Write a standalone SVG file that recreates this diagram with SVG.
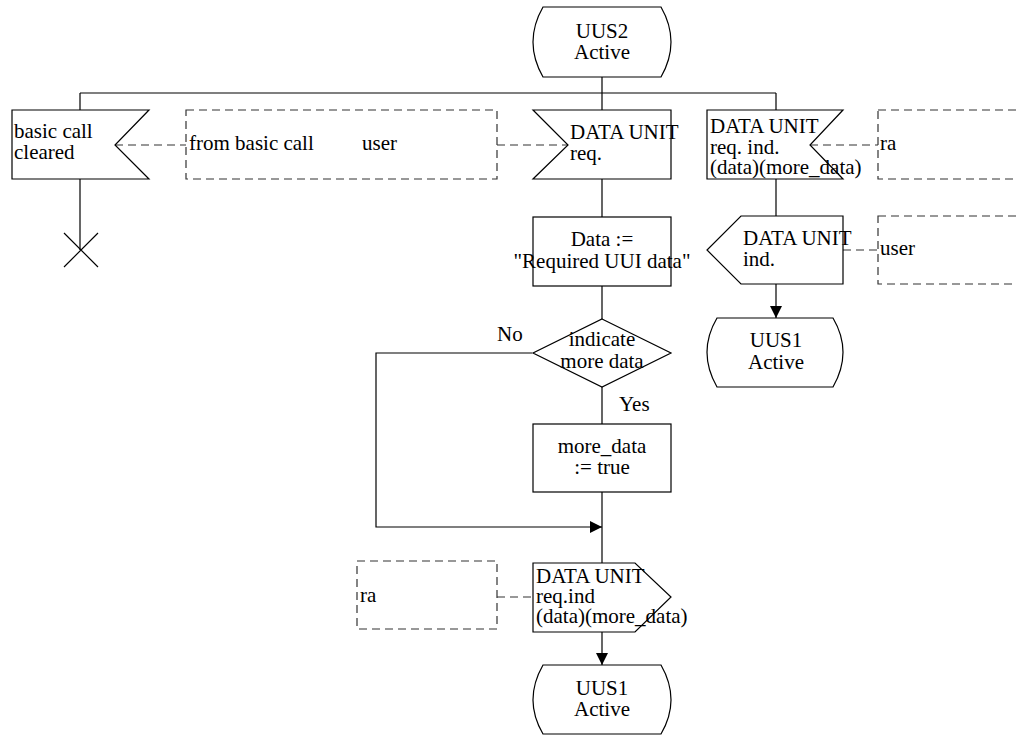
<svg xmlns="http://www.w3.org/2000/svg" width="1016" height="735" viewBox="0 0 1016 735">
<defs>
<style>
.s{fill:#fff;stroke:#000;stroke-width:1.2}
.l{fill:none;stroke:#000;stroke-width:1.2}
.d{fill:none;stroke:#333;stroke-width:1.2;stroke-dasharray:8 5}
.t{font-family:'Liberation Serif','Times New Roman',serif;font-size:21px;fill:#000}
.c{text-anchor:middle}
</style>
<marker id="ah" viewBox="0 0 12 12" markerWidth="12" markerHeight="12" refX="12" refY="6" orient="auto" markerUnits="userSpaceOnUse">
<path d="M0,0 L12,6 L0,12 Z" fill="#000"/>
</marker>
</defs>
<rect width="1016" height="735" fill="#fff"/>
<g id="connectors">
<path class="l" d="M602,77 V93 M80,93 H776 M80,93 V110 M602,93 V110 M776,93 V110"/>
<path class="l" d="M80,179 V250"/>
<path class="l" d="M64,233 L98,267 M98,233 L64,267"/>
<path class="l" d="M602,179 V217 M602,286 V319 M602,387 V424"/>
<path class="l" d="M602,492 V563"/>
<path class="l" d="M532,353 H376 V527 H602" marker-end="url(#ah)"/>
<path class="l" d="M602,632 V665" marker-end="url(#ah)"/>
<path class="l" d="M776,179 V216"/>
<path class="l" d="M776,284 V318" marker-end="url(#ah)"/>
<path class="d" d="M115,145 H186"/>
<path class="d" d="M497,145 H568"/>
<path class="d" d="M810,145 H878"/>
<path class="d" d="M843,250 H878"/>
<path class="d" d="M497,597 H533"/>
</g>
<g class="t">
<g id="uus2">
<path class="s" d="M543,7 L661,7 Q681,42 661,77 L543,77 Q523,42 543,7 Z"/>
<text class="c" x="602" y="38">UUS2</text>
<text class="c" x="602" y="59">Active</text>
</g>
<g id="basic-call-cleared">
<path class="s" d="M12,110 H149 L115,145 L149,179 H12 Z"/>
<text x="14" y="138">basic call</text>
<text x="14" y="159">cleared</text>
</g>
<g id="env-basic-user">
<rect class="d" x="186" y="110" width="311" height="69"/>
<text x="189" y="150">from basic call</text>
<text x="362" y="150">user</text>
</g>
<g id="data-unit-req">
<path class="s" d="M533,110 H671 V179 H533 L568,145 Z"/>
<text x="570" y="139">DATA UNIT</text>
<text x="570" y="160">req.</text>
</g>
<g id="data-assign">
<rect class="s" x="533" y="217" width="138" height="69"/>
<text class="c" x="602" y="246">Data :=</text>
<text class="c" x="602" y="268">"Required UUI data"</text>
</g>
<g id="decision">
<path class="s" d="M602,319 L671,353 L602,387 L533,353 Z"/>
<text class="c" x="602" y="346">indicate</text>
<text class="c" x="602" y="368">more data</text>
<text x="497" y="341">No</text>
<text x="619" y="411">Yes</text>
</g>
<g id="more-data-assign">
<rect class="s" x="533" y="424" width="138" height="68"/>
<text class="c" x="602" y="453">more_data</text>
<text class="c" x="602" y="474">:= true</text>
</g>
<g id="env-ra-bottom">
<rect class="d" x="357" y="561" width="140" height="68"/>
<text x="360" y="602">ra</text>
</g>
<g id="data-unit-req-ind-out">
<path class="s" d="M533,563 H635 L671,597 L635,632 H533 Z"/>
<text x="536" y="583">DATA UNIT</text>
<text x="536" y="603">req.ind</text>
<text x="536" y="623">(data)(more_data)</text>
</g>
<g id="uus1-bottom">
<path class="s" d="M543,665 L661,665 Q681,700 661,734 L543,734 Q523,700 543,665 Z"/>
<text class="c" x="602" y="695">UUS1</text>
<text class="c" x="602" y="716">Active</text>
</g>
<g id="data-unit-req-ind-in">
<path class="s" d="M707,110 H843 L810,145 L843,179 H707 Z"/>
<text x="710" y="133">DATA UNIT</text>
<text x="710" y="154">req. ind.</text>
<text x="710" y="174">(data)(more_data)</text>
</g>
<g id="env-ra-top">
<rect class="d" x="878" y="110" width="150" height="69"/>
<text x="880" y="150">ra</text>
</g>
<g id="data-unit-ind">
<path class="s" d="M741,216 H843 V284 H741 L707,250 Z"/>
<text x="743" y="245">DATA UNIT</text>
<text x="743" y="266">ind.</text>
</g>
<g id="env-user-right">
<rect class="d" x="878" y="216" width="150" height="68"/>
<text x="880" y="255">user</text>
</g>
<g id="uus1-right">
<path class="s" d="M717,318 L833,318 Q853,352 833,387 L717,387 Q697,352 717,318 Z"/>
<text class="c" x="776" y="347">UUS1</text>
<text class="c" x="776" y="369">Active</text>
</g>
</g>
</svg>
